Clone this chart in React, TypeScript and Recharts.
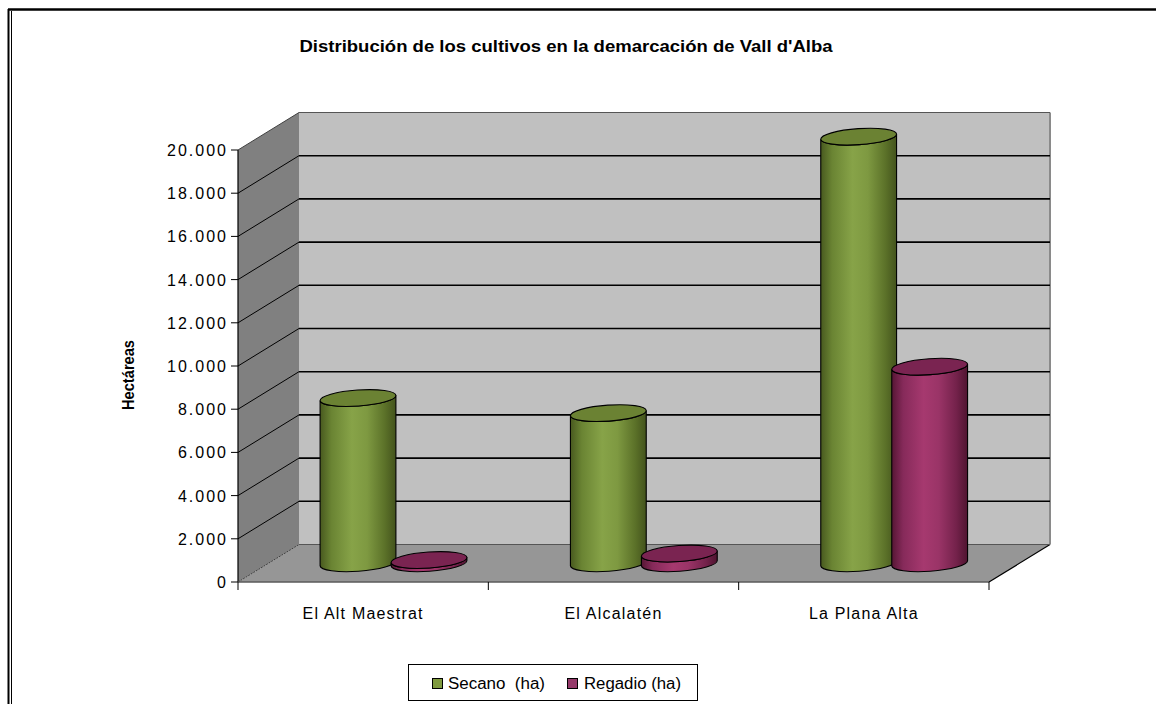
import React from 'react';
import { BarChart, Bar, XAxis, YAxis, CartesianGrid } from 'recharts';

// ---- data ----
const categories = ['El Alt Maestrat', 'El Alcalatén', 'La Plana Alta'];
const secanoValues = [7650, 6950, 19750];
const regadioValues = [150, 450, 9100];
const yTickValues = [0, 2000, 4000, 6000, 8000, 10000, 12000, 14000, 16000, 18000, 20000];
const seriesNames = ['Secano  (ha)', 'Regadio (ha)'];
const titleText = "Distribución de los cultivos en la demarcación de Vall d'Alba";
const yAxisTitle = 'Hectáreas';

const data = categories.map((name, i) => ({
  name,
  secano: secanoValues[i],
  regadio: regadioValues[i],
}));

// ---- layout ----
const W = 1156;
const H = 704;
const DX = 61; // depth offset x
const DY = 37.5; // depth offset y
const HX = DX / 2;
const HY = DY / 2;
const MID_LEFT = 268.5;
const MID_RIGHT = 1019.5;
const MID_TOP = 131.25;
const MID_BOTTOM = 563.25;
const Y_AXIS_W = 150;
const X_AXIS_H = 40;
const FONT = '"Liberation Sans", Arial, sans-serif';

const fmt = (v: number) => (v === 0 ? '0' : v.toLocaleString('de-DE'));

const Walls = () => {
  const L = MID_LEFT;
  const R = MID_RIGHT;
  const T = MID_TOP;
  const B = MID_BOTTOM;
  const n = categories.length;
  const step = (R - L) / n;
  const ticks = Array.from({ length: n + 1 }, (_, k) => L - HX + k * step);
  return (
    <g>
      <polygon
        points={`${L - HX},${B + HY} ${L - HX},${T + HY} ${L + HX},${T - HY} ${L + HX},${B - HY}`}
        fill="#808080"
      />
      <rect x={L + HX} y={T - HY} width={R - L} height={B - T} fill="#c0c0c0" />
      <line x1={R + HX} y1={T - HY} x2={R + HX} y2={B - HY} stroke="#8a8a8a" strokeWidth={2} />
      <polygon
        points={`${L - HX},${B + HY} ${L + HX},${B - HY} ${R + HX},${B - HY} ${R - HX},${B + HY}`}
        fill="#969696"
      />
      <line x1={R - HX} y1={B + HY} x2={R + HX} y2={B - HY} stroke="#000" strokeWidth={1.2} />
      <line x1={L - HX} y1={T + HY} x2={L - HX} y2={B + HY} stroke="#000" strokeWidth={1.2} />
      <line x1={L - HX} y1={B + HY} x2={R - HX} y2={B + HY} stroke="#5a5a5a" strokeWidth={1.5} />
      {ticks.map((tx, k) => (
        <line key={k} x1={tx} y1={B + HY} x2={tx} y2={B + HY + 8} stroke="#000" strokeWidth={1} />
      ))}
    </g>
  );
};

const GridLine = (props: any) => {
  const { x1, x2, y1, index } = props;
  const y = y1;
  const isBottom = Math.abs(y - MID_BOTTOM) < 0.5;
  const isTop = Math.abs(y - MID_TOP) < 0.5;
  const edge = isBottom || isTop;
  return (
    <g>
      {index === 0 && <Walls />}
      <line
        x1={x1 - HX}
        y1={y + HY}
        x2={x1 + HX}
        y2={y - HY}
        stroke={edge ? '#404040' : '#000'}
        strokeWidth={1}
        strokeDasharray={isBottom ? '2 1' : undefined}
      />
      <line
        x1={x1 + HX}
        y1={y - HY}
        x2={x2 + HX}
        y2={y - HY}
        stroke={edge ? '#555' : '#000'}
        strokeWidth={edge ? 1.2 : 1.6}
      />
    </g>
  );
};

const YTick = (props: any) => {
  const { y, payload } = props;
  const fy = y + HY;
  return (
    <g>
      <line x1={MID_LEFT - HX - 7} y1={fy} x2={MID_LEFT - HX} y2={fy} stroke="#000" strokeWidth={1} />
      <text
        x={228}
        y={fy + 6}
        textAnchor="end"
        fontFamily={FONT}
        fontSize={16}
        fill="#000"
        letterSpacing={2}
      >
        {fmt(payload.value)}
      </text>
    </g>
  );
};

const XTick = (props: any) => {
  const { x, payload } = props;
  return (
    <text
      x={x - HX}
      y={619}
      textAnchor="middle"
      fontFamily={FONT}
      fontSize={16}
      fill="#000"
      letterSpacing={1.2}
    >
      {payload.value}
    </text>
  );
};

const makeCylinder = (kind: 'g' | 'm') => (props: any) => {
  const { x, y, width, height, index } = props;
  if (x == null || y == null) return null;
  const cx = x + width / 2;
  const rx = (width + 5) / 2;
  const ry = 8;
  const th = (4 * Math.PI) / 180;
  const a = rx * Math.cos(th);
  const b = rx * Math.sin(th);
  const top = y;
  const bot = y + height;
  const id = `cyl-${kind}-${index}`;
  const stops =
    kind === 'g'
      ? ['#48591f', '#6a8433', '#87a348', '#7e9941', '#5c7229', '#43531c']
      : ['#561634', '#862a5a', '#a6396f', '#9a3467', '#74224b', '#4f1430'];
  const topFill = kind === 'g' ? '#6b8233' : '#7a2451';
  const d = `M ${cx - a} ${top + b} L ${cx - a} ${bot + b} A ${rx} ${ry} -4 0 0 ${cx + a} ${bot - b} L ${cx + a} ${top - b} A ${rx} ${ry} -4 0 1 ${cx - a} ${top + b} Z`;
  return (
    <g>
      <defs>
        <linearGradient id={id} x1="0" y1="0" x2="1" y2="0">
          <stop offset="0" stopColor={stops[0]} />
          <stop offset="0.15" stopColor={stops[1]} />
          <stop offset="0.42" stopColor={stops[2]} />
          <stop offset="0.62" stopColor={stops[3]} />
          <stop offset="0.85" stopColor={stops[4]} />
          <stop offset="1" stopColor={stops[5]} />
        </linearGradient>
      </defs>
      <path d={d} fill={`url(#${id})`} stroke="#000" strokeWidth={1.1} />
      <ellipse
        cx={cx}
        cy={top}
        rx={rx}
        ry={ry}
        transform={`rotate(-4 ${cx} ${top})`}
        fill={topFill}
        stroke="#000"
        strokeWidth={1.1}
      />
    </g>
  );
};

const SecanoShape = makeCylinder('g');
const RegadioShape = makeCylinder('m');

export default function App() {
  return (
    <div style={{ position: 'absolute', left: 0, top: 0, width: W, height: H, background: '#fff', overflow: 'hidden' }}>
      <BarChart
        width={W}
        height={H}
        data={data}
        margin={{
          top: MID_TOP,
          right: W - MID_RIGHT,
          bottom: H - MID_BOTTOM - X_AXIS_H,
          left: MID_LEFT - Y_AXIS_W,
        }}
        barSize={71}
        barGap={0}
      >
        <CartesianGrid vertical={false} horizontal={(p: any) => <GridLine {...p} />} />
        <XAxis
          dataKey="name"
          height={X_AXIS_H}
          axisLine={false}
          tickLine={false}
          tick={<XTick />}
          interval={0}
        />
        <YAxis
          width={Y_AXIS_W}
          domain={[0, 20000]}
          ticks={yTickValues}
          axisLine={false}
          tickLine={false}
          tick={<YTick />}
          interval={0}
        />
        <Bar dataKey="secano" name={seriesNames[0]} fill="#7f9a3e" shape={<SecanoShape />} isAnimationActive={false} />
        <Bar dataKey="regadio" name={seriesNames[1]} fill="#953a6a" shape={<RegadioShape />} isAnimationActive={false} />
      </BarChart>
      <svg
        width={W}
        height={H}
        style={{ position: 'absolute', left: 0, top: 0, pointerEvents: 'none' }}
      >
        {/* frame */}
        <line x1={8.5} y1={9} x2={8.5} y2={H} stroke="#000" strokeWidth={2} />
        <line x1={11.5} y1={11} x2={11.5} y2={H} stroke="#000" strokeWidth={1} />
        <line x1={8} y1={9.5} x2={W} y2={9.5} stroke="#000" strokeWidth={2.5} />
        <text
          x={566}
          y={52}
          textAnchor="middle"
          fontFamily={FONT}
          fontSize={16}
          fontWeight="bold"
          fill="#000"
          textLength={533}
          lengthAdjust="spacingAndGlyphs"
        >
          {titleText}
        </text>
        <text
          transform="rotate(-90 134 375)"
          x={134}
          y={375}
          textAnchor="middle"
          fontFamily={FONT}
          fontSize={16}
          fontWeight="bold"
          fill="#000"
          textLength={70}
          lengthAdjust="spacingAndGlyphs"
        >
          {yAxisTitle}
        </text>
        {/* legend */}
        <rect x={408.5} y={664.5} width={289} height={36} fill="#fff" stroke="#000" strokeWidth={1} />
        <rect x={432.5} y={678.5} width={10} height={10} fill="#7f9a3e" stroke="#000" strokeWidth={1} />
        <text x={448} y={689} fontFamily={FONT} fontSize={16} fill="#000" style={{ whiteSpace: 'pre' }} textLength={97} lengthAdjust="spacingAndGlyphs">
          {seriesNames[0]}
        </text>
        <rect x={567.5} y={678.5} width={10} height={10} fill="#953a6a" stroke="#000" strokeWidth={1} />
        <text x={584} y={689} fontFamily={FONT} fontSize={16} fill="#000" textLength={97} lengthAdjust="spacingAndGlyphs">
          {seriesNames[1]}
        </text>
      </svg>
    </div>
  );
}
